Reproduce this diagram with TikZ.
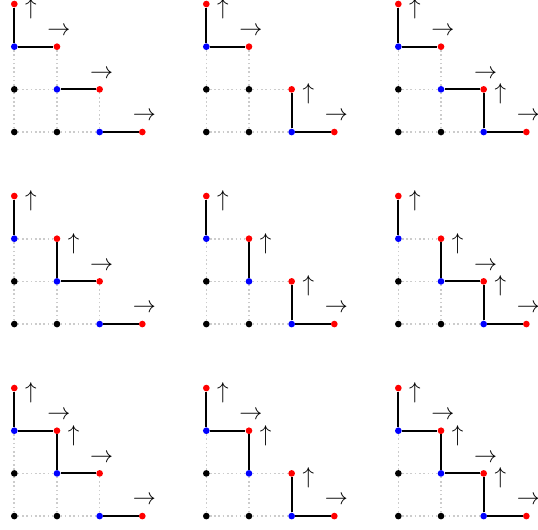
\documentclass[tikz,border=0pt]{standalone}
\usepackage{amsmath, amsfonts}
\usepackage{tikz}
\usetikzlibrary{positioning}

\begin{document}
\begin{tikzpicture}[x = 32pt, y = 32pt,
	pt/.style = {circle, inner sep = 0pt, minimum size = 5pt},
	gridline/.style = {draw = black!20, line width = 1.2pt, dotted},
	walk/.style = {draw = black, line width = 1.5pt},
	rlab/.style = {font = \LARGE, xshift = 1.5pt, yshift = 11.6pt},
	ulab/.style = {font = \LARGE, xshift = 12.5pt, yshift = -3.4pt}]
	\useasboundingbox (-0.335, -9.305) rectangle (12.273, 3.094);

	% row/col/right from (0,2)/up from (1,1)/right from (1,1)/up from (2,0)
	\foreach \r/\c/\ar/\bu/\br/\cu in {0/0/1/0/1/0, 0/1/1/0/0/1, 0/2/1/0/1/1,
		1/0/0/1/1/0, 1/1/0/1/0/1, 1/2/0/1/1/1,
		2/0/1/1/1/0, 2/1/1/1/0/1, 2/2/1/1/1/1} {
		\pgfmathtruncatemacro\usedB{max(\bu, \br)}
		\pgfmathtruncatemacro\redP{max(\ar, \bu)}
		\pgfmathtruncatemacro\redQ{max(\br, \cu)}
		\ifnum\usedB=1 \def\colB{blue}\else\def\colB{black}\fi
		\ifnum\redP=1 \def\colP{red}\else\def\colP{black}\fi
		\ifnum\redQ=1 \def\colQ{red}\else\def\colQ{black}\fi
		\begin{scope}[shift = {(4.5*\c, -4.5*\r)}]
			\node[pt, fill = black] (p\r\c-00) at (0, 0) {};
			\node[pt, fill = black] (p\r\c-10) at (1, 0) {};
			\node[pt, fill = blue] (p\r\c-20) at (2, 0) {};
			\node[pt, fill = red] (p\r\c-30) at (3, 0) {};
			\node[pt, fill = black] (p\r\c-01) at (0, 1) {};
			\node[pt, fill = \colB] (p\r\c-11) at (1, 1) {};
			\node[pt, fill = \colQ] (p\r\c-21) at (2, 1) {};
			\node[pt, fill = blue] (p\r\c-02) at (0, 2) {};
			\node[pt, fill = \colP] (p\r\c-12) at (1, 2) {};
			\node[pt, fill = red] (p\r\c-03) at (0, 3) {};

			\draw[gridline] (p\r\c-00) -- (p\r\c-10) -- (p\r\c-20)
				(p\r\c-01) -- (p\r\c-11) -- (p\r\c-21)
				(p\r\c-02) -- (p\r\c-12)
				(p\r\c-00) -- (p\r\c-01) -- (p\r\c-02)
				(p\r\c-10) -- (p\r\c-11) -- (p\r\c-12)
				(p\r\c-20) -- (p\r\c-21);

			\draw[walk] (p\r\c-02) -- (p\r\c-03);
			\draw[walk] (p\r\c-20) -- (p\r\c-30);
			\node[ulab] (u\r\c-03) at (p\r\c-03) {$\uparrow$};
			\node[rlab] (a\r\c-30) at (p\r\c-30) {$\rightarrow$};
			\ifnum\ar=1
				\draw[walk] (p\r\c-02) -- (p\r\c-12);
				\node[rlab] (a\r\c-12) at (p\r\c-12) {$\rightarrow$};
			\fi
			\ifnum\bu=1
				\draw[walk] (p\r\c-11) -- (p\r\c-12);
				\node[ulab] (u\r\c-12) at (p\r\c-12) {$\uparrow$};
			\fi
			\ifnum\br=1
				\draw[walk] (p\r\c-11) -- (p\r\c-21);
				\node[rlab] (a\r\c-21) at (p\r\c-21) {$\rightarrow$};
			\fi
			\ifnum\cu=1
				\draw[walk] (p\r\c-20) -- (p\r\c-21);
				\node[ulab] (u\r\c-21) at (p\r\c-21) {$\uparrow$};
			\fi
		\end{scope}
	}
\end{tikzpicture}
\end{document}
